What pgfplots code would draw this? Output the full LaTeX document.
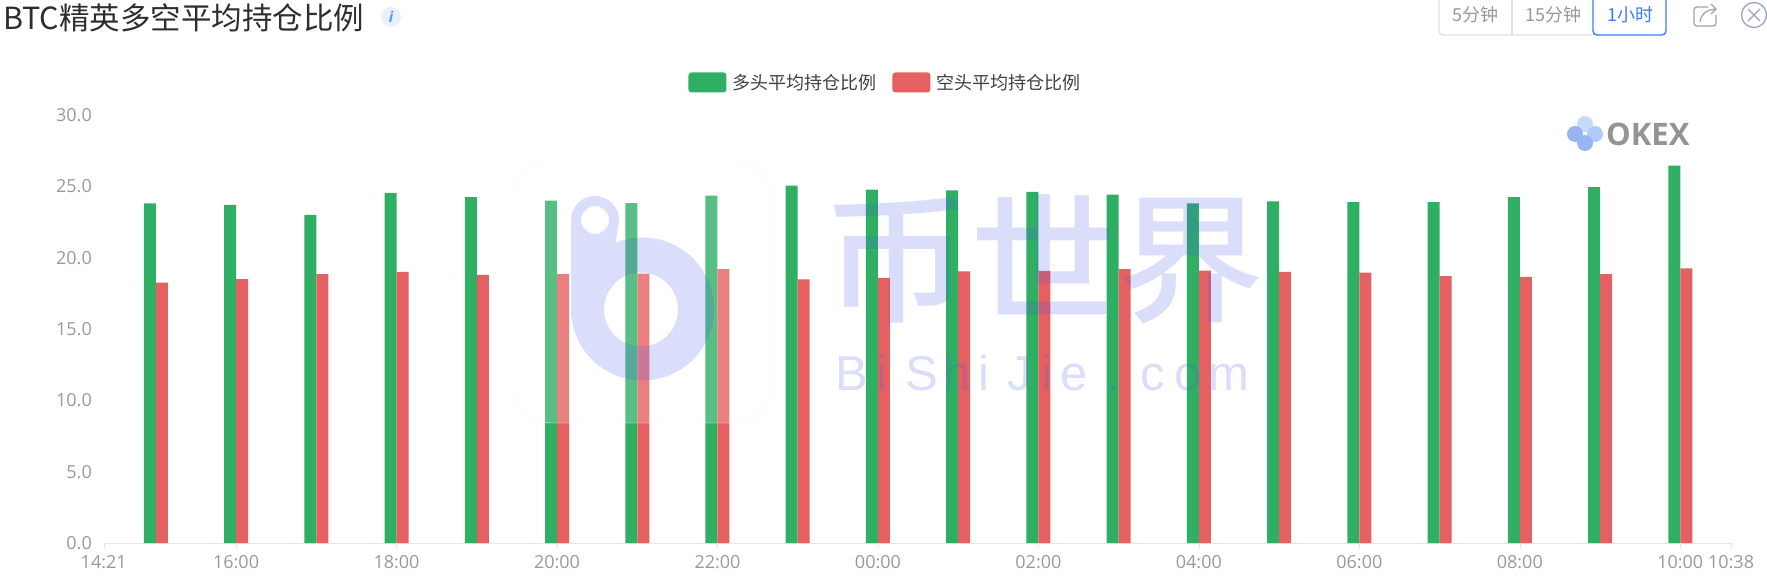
\documentclass[border=0pt]{standalone}
\usepackage{graphicx}
\usepackage{pgfplots}
\pgfplotsset{compat=1.18}
\usepackage{fontspec}
\setmainfont{Noto Sans CJK SC}
\newfontfamily\latin{Open Sans}
\newfontfamily\wmlatin{Liberation Sans}
\newfontfamily\wmcjk{Noto Sans CJK SC Medium}
\definecolor{barG}{HTML}{2EAF64}
\definecolor{barR}{HTML}{E56060}
\definecolor{tickc}{HTML}{999999}
\definecolor{wm}{RGB}{70,90,230}
\definecolor{infobg}{HTML}{E8F1FD}
\definecolor{infoi}{HTML}{5B9BF5}
\definecolor{btnblue}{HTML}{3B7CF5}
\definecolor{icong}{HTML}{9AA3B8}
\definecolor{ok1}{HTML}{C5DBFA}
\definecolor{ok2}{HTML}{AECBF9}
\definecolor{ok3}{HTML}{98B2F2}
\definecolor{ok4}{HTML}{95B7F3}
\pgfplotstableread{
x long short
0 23.80 18.25
1 23.70 18.50
2 23.00 18.85
3 24.55 19.00
4 24.25 18.80
5 24.00 18.85
6 23.82 18.88
7 24.35 19.20
8 25.05 18.47
9 24.77 18.58
10 24.72 19.04
11 24.62 19.08
12 24.42 19.20
13 23.80 19.10
14 23.95 19.00
15 23.90 18.95
16 23.90 18.70
17 24.25 18.65
18 24.95 18.85
19 26.45 19.25
}\datatable
\begin{document}
\begin{tikzpicture}[x=1pt,y=-1pt]
\path[use as bounding box] (0,0) rectangle (1767,586);
\begin{axis}[
  at={(103.7pt,-543pt)}, anchor=south west,
  scale only axis, width=1627.4pt, height=428pt,
  xmin=-0.65, xmax=19.6333, ymin=0, ymax=30,
  ybar=0pt, bar width=12pt,
  axis x line=bottom, axis y line=none,
  x axis line style={draw=black!10,-},
  xtick={-0.65,1,3,5,7,9,11,13,15,17,19,19.6333},
  xticklabels={14:21,16:00,18:00,20:00,22:00,00:00,02:00,04:00,06:00,08:00,10:00,10:38},
  major tick length=5pt,
  tick style={draw=black!10},
  tick align=outside,
  ticklabel style={font=\latin\fontsize{18}{20}\selectfont, text=tickc},
  xticklabel style={yshift=-4pt},
  legend style={draw=none, fill=none, at={(0.4804,1.076)}, anchor=center,
    legend columns=2, font=\fontsize{18}{20}\selectfont\color{black!75},
    /tikz/every even column/.append style={column sep=14pt}},
  legend cell align=left,
  clip=false,
]
\addplot[ybar, fill=barG, draw=none, area legend,
  legend image code/.code={\fill[barG, rounded corners=3pt] (-1pt,-10pt) rectangle (37pt,10pt);\path (0pt,0pt) -- (41pt,0pt);}]
  table[x=x,y=long]{\datatable};
\addplot[ybar, fill=barR, draw=none, area legend,
  legend image code/.code={\fill[barR, rounded corners=3pt] (-1pt,-10pt) rectangle (37pt,10pt);\path (0pt,0pt) -- (41pt,0pt);}]
  table[x=x,y=short]{\datatable};
\legend{多头平均持仓比例,空头平均持仓比例}
\end{axis}
% y tick labels
\foreach \v/\y in {30.0/115,25.0/186.3,20.0/257.7,15.0/329,10.0/400.3,5.0/471.7,0.0/543}
  \node[anchor=east, inner sep=0pt, text=tickc, font=\latin\fontsize{18}{20}\selectfont] at (92,\y) {\v};
% watermark panel
\fill[white, fill opacity=0.2, rounded corners=38pt] (513,161) rectangle (772,423);
\draw[black!3, rounded corners=38pt] (513,161) rectangle (772,423);
% logo (one path, nonzero winding: holes run the other way)
\fill[wm, fill opacity=0.2]
  (571,309) -- (571,220) arc[start angle=180, end angle=360, radius=24]
  -- (612,268) -- cycle
  (609,220) arc[start angle=360, end angle=0, radius=14]
  (714,309) arc[start angle=0, end angle=360, radius=71.5]
  (678,309.5) arc[start angle=360, end angle=0, radius=37];
\node[text=wm, text opacity=0.2, inner sep=0pt, anchor=center, font=\wmcjk\fontsize{144}{144}\selectfont] at (1044,259) {\scalebox{1.02}[0.97]{币世界}};
\node[text=wm, text opacity=0.2, inner sep=0pt, anchor=base west, font=\wmlatin\fontsize{49}{50}\selectfont] at (835.5,390) {B\kern8pt i\kern18pt S\kern6pt h\kern7pt i\kern18pt J\kern9.5pt i\kern9pt e\kern19.5pt .\kern19pt c\kern9.5pt o\kern7pt m};
% title
\node[anchor=west, inner sep=0pt, text=black!82, font=\fontsize{30.5}{32}\selectfont] at (3,18) {BTC精英多空平均持仓比例};
\fill[infobg] (391,17) circle[radius=10];
\node[text=infoi, font=\fontsize{15}{16}\selectfont\itshape\latin\bfseries, inner sep=0pt] at (391,17) {i};
% buttons
\draw[black!12, line width=1.4pt, rounded corners=4pt] (1439,-6) -- (1439,35) -- (1600,35);
\draw[black!12, line width=1.2pt] (1512,-6) -- (1512,35);
\draw[btnblue, line width=1.4pt, rounded corners=4pt] (1593,-6) -- (1593,35) -- (1666,35) -- (1666,-6);
\node[text=black!40, font=\fontsize{18}{20}\selectfont, inner sep=0pt] at (1475,15) {5分钟};
\node[text=black!40, font=\fontsize{18}{20}\selectfont, inner sep=0pt] at (1553,15) {15分钟};
\node[text=btnblue, font=\fontsize{18}{20}\selectfont, inner sep=0pt] at (1630,15) {1小时};
% icons
\draw[icong, line width=1.3pt, rounded corners=3pt] (1708,7) -- (1694,7) -- (1694,26) -- (1716,26) -- (1716,15);
\draw[icong, line width=1.3pt] (1700,22) .. controls (1701,13) and (1707,10) .. (1716,9);
\draw[icong, line width=1.3pt] (1711,4) -- (1716,9) -- (1711,14);
\draw[icong, line width=1.3pt] (1754,15) circle[radius=12.5];
\draw[icong, line width=1.3pt] (1748,9) -- (1760,21) (1760,9) -- (1748,21);
% OKEX
\fill[ok1] (1585,124) circle[radius=8];
\fill[ok2] (1595,134) circle[radius=8];
\fill[ok3] (1575,134) circle[radius=8];
\fill[ok4] (1585,143) circle[radius=8];
\node[anchor=west, inner sep=0pt, text=black!42, font=\latin\bfseries\fontsize{31}{34}\selectfont] at (1606,134) {OKEX};
\end{tikzpicture}
\end{document}
